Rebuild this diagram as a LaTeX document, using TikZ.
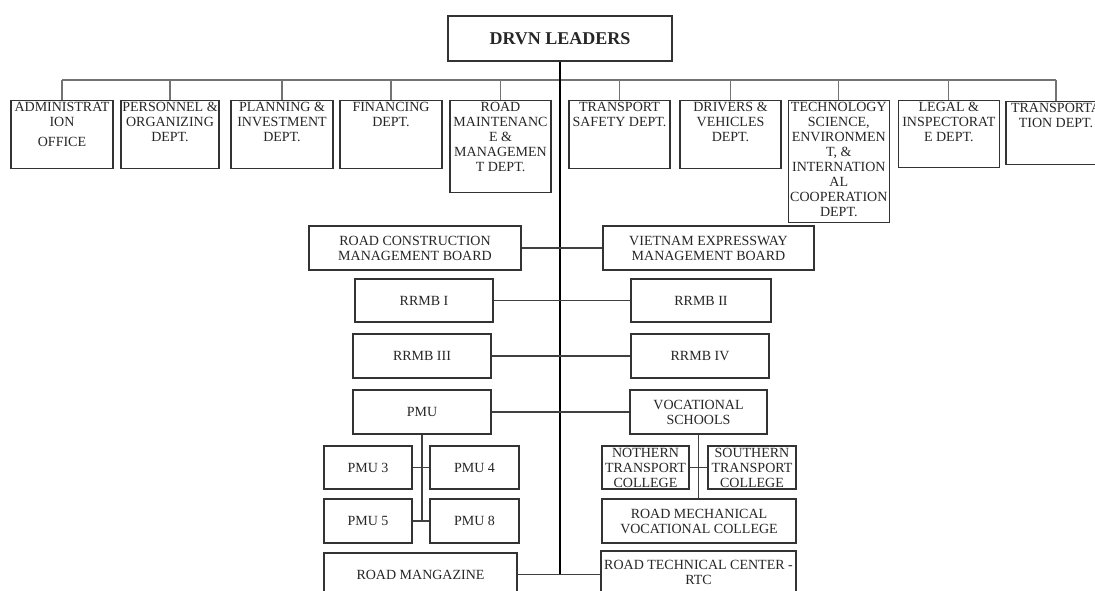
\documentclass[tikz,border=0pt]{standalone}
\usepackage{fontspec}
\setmainfont{Liberation Serif}
\begin{document}
\begin{tikzpicture}[x=0.75pt,y=-0.75pt,
  box/.style={draw=black!80, line width=1pt, fill=white, inner sep=0pt, align=center,
    font=\fontsize{10.5}{11.25}\selectfont, text=black!85},
  sz/.style 2 args={minimum width=#1*0.75pt, minimum height=#2*0.75pt},
  lbl/.style={anchor=north, align=center, inner sep=1.5pt,
    font=\fontsize{10.5}{11.25}\selectfont, text=black!85},
  conn/.style={draw=black!75, line width=0.8pt},
  bus/.style={draw=black!55, line width=0.9pt}]
\useasboundingbox (0,0) rectangle (1095,590);
\clip (0,0) rectangle (1095,590);

% leaders
\node[box, sz={224}{45}, font=\fontsize{13.5}{15}\selectfont\bfseries] (lead) at (560,38.5) {DRVN LEADERS};

% departments
\node[box, sz={102}{68}, anchor=north, label={[lbl]north:{ADMINISTRAT\\ION\\[3.75pt]OFFICE}}] (d1) at (62,100) {};
\node[box, sz={98}{68}, anchor=north, label={[lbl]north:{PERSONNEL \&\\ORGANIZING\\DEPT.}}] (d2) at (170,100) {};
\node[box, sz={102}{68}, anchor=north, label={[lbl]north:{PLANNING \&\\INVESTMENT\\DEPT.}}] (d3) at (282,100) {};
\node[box, sz={102}{68}, anchor=north, label={[lbl]north:{FINANCING\\DEPT.}}] (d4) at (391,100) {};
\node[box, sz={101}{92}, anchor=north, label={[lbl]north:{ROAD\\MAINTENANC\\E \&\\MANAGEMEN\\T DEPT.}}] (d5) at (500.5,100) {};
\node[box, sz={101}{68}, anchor=north, label={[lbl]north:{TRANSPORT\\SAFETY DEPT.}}] (d6) at (619.5,100) {};
\node[box, sz={101}{68}, anchor=north, label={[lbl]north:{DRIVERS \&\\VEHICLES\\DEPT.}}] (d7) at (730.5,100) {};
\node[box, sz={101}{122}, anchor=north, label={[lbl]north:{TECHNOLOGY\\SCIENCE,\\ENVIRONMEN\\T, \&\\INTERNATION\\AL\\COOPERATION\\DEPT.}}] (d8) at (838.8,100) {};
\node[box, sz={101}{67}, anchor=north, label={[lbl]north:{LEGAL \&\\INSPECTORAT\\E DEPT.}}] (d9) at (948.8,100) {};
\node[box, sz={100}{63}, anchor=north, label={[lbl]north:{TRANSPORTA\\TION DEPT.}}] (d10) at (1056,101) {};

% middle units
\node[box, sz={212}{44}] (rcmb) at (415,248) {ROAD CONSTRUCTION\\MANAGEMENT BOARD};
\node[box, sz={211}{44}] (vemb) at (708.5,248) {VIETNAM EXPRESSWAY\\MANAGEMENT BOARD};
\node[box, sz={138}{43}] (r1) at (424,300.5) {RRMB I};
\node[box, sz={140}{43}] (r2) at (701,300.5) {RRMB II};
\node[box, sz={138}{44}] (r3) at (422,356) {RRMB III};
\node[box, sz={138}{44}] (r4) at (700,356) {RRMB IV};
\node[box, sz={138}{44}] (pmu) at (422,412) {PMU};
\node[box, sz={137}{44}] (voc) at (698.5,412) {VOCATIONAL\\SCHOOLS};
\node[box, sz={88}{43}] (p3) at (368,467.5) {PMU 3};
\node[box, sz={89}{43}] (p4) at (474.5,467.5) {PMU 4};
\node[box, sz={88}{44}] (p5) at (368,521) {PMU 5};
\node[box, sz={89}{44}] (p8) at (474.5,521) {PMU 8};
\node[box, sz={87}{43}] (ntc) at (645.5,467.5) {NOTHERN\\TRANSPORT\\COLLEGE};
\node[box, sz={88}{43}] (stc) at (752,467.5) {SOUTHERN\\TRANSPORT\\COLLEGE};
\node[box, sz={194}{44}] (rmvc) at (699,521) {ROAD MECHANICAL\\VOCATIONAL COLLEGE};
\node[box, sz={193}{43}] (mag) at (420.5,574.5) {ROAD MANGAZINE};
\node[box, sz={195}{43}] (rtc) at (698.5,572.5) {ROAD TECHNICAL CENTER -\\RTC};

% connectors
\coordinate (busy) at (0,80);
\draw[bus] (d1.north |- busy) -- (d10.north |- busy);
\foreach \n in {d1,d2,d3,d4,d5,d6,d7,d8,d9,d10}
  \draw[bus] (\n.north |- busy) -- (\n.north);
\draw[black, line width=0.9pt] (lead.south) -- (lead.south |- mag.east);
\draw[conn] (rcmb.east) -- (vemb.west);
\draw[conn] (r1.east) -- (r2.west);
\draw[conn] (r3.east) -- (r4.west);
\draw[conn] (pmu.east) -- (voc.west);
\draw[conn] (mag.east) -- (mag.east -| rtc.west);
\draw[conn] (pmu.south) -- (pmu.south |- p8.west);
\draw[conn] (p3.east) -- (p4.west);
\draw[conn] (p5.east) -- (p8.west);
\draw[conn] (voc.south) -- (voc.south |- rmvc.north);
\draw[conn] (ntc.east) -- (stc.west);
\end{tikzpicture}
\end{document}
